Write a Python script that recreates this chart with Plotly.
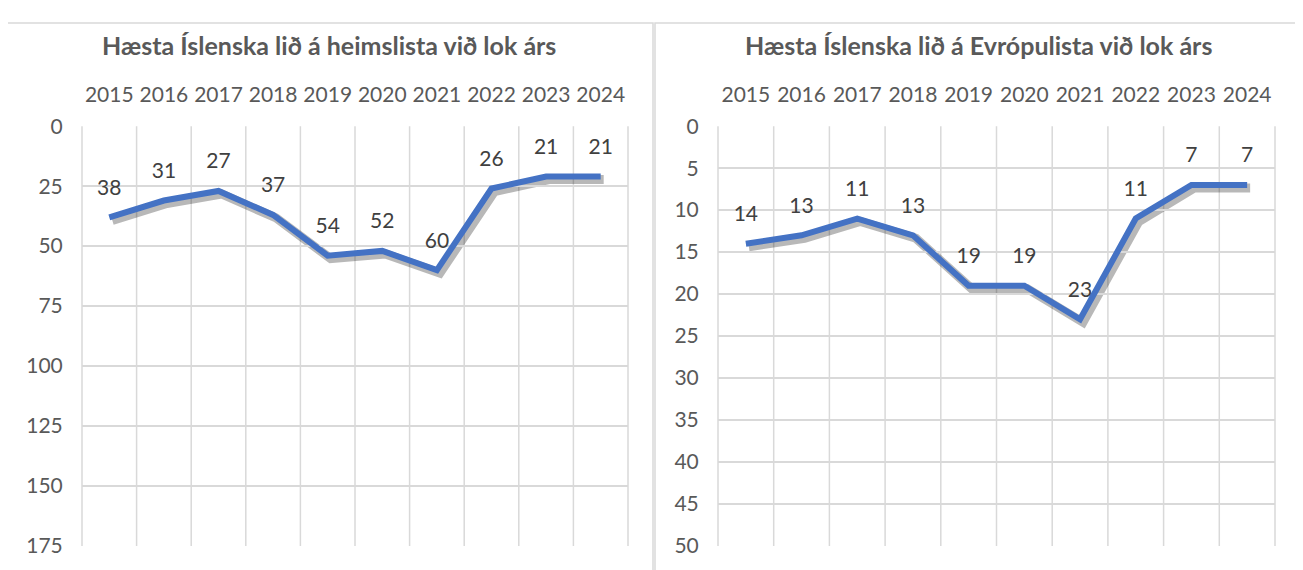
import plotly.graph_objects as go

W, H = 1287, 600
OX = 8             # horizontal offset of the figure inside the page
TOP_OFF = 22       # observed vertical offset of the figure inside the page
HR = H - 26        # observed rendered height of the figure

years = ["2015", "2016", "2017", "2018", "2019", "2020", "2021", "2022", "2023", "2024"]
world_rank = [38, 31, 27, 37, 54, 52, 60, 26, 21, 21]
europe_rank = [14, 13, 11, 13, 19, 19, 23, 11, 7, 7]
title_world = "Hæsta Íslenska lið á heimslista við lok árs"
title_europe = "Hæsta Íslenska lið á Evrópulista við lok árs"

FONT = "Lato"
TXT = "#595959"
LBL = "#404040"
GRID = "#d9d9d9"
BLUE = "#4472C4"

def px(x):
    return (x - OX) / W

def py(y):
    return 1 - (y - TOP_OFF) / HR

def aid(n):
    return "" if n == 1 else str(n)

fig = go.Figure()

panels = [
    dict(vals=world_rank, x0=82, x1=628, ymax=175, dtick=25, title=title_world, fx0=5, fx1=653),
    dict(vals=europe_rank, x0=718, x1=1275, ymax=50, dtick=5, title=title_europe, fx0=655, fx1=1302),
]
top, bottom = 126, 545
sh = 3  # shadow offset px

layout_axes = {}
for i, p in enumerate(panels):
    n = i * 2 + 1
    xs, ys = "x" + aid(n), "y" + aid(n)          # shadow subplot (drawn first)
    xa, ya = "x" + aid(n + 1), "y" + aid(n + 1)  # main subplot
    fig.add_trace(go.Scatter(x=years, y=p["vals"], mode="lines", xaxis=xs, yaxis=ys,
                             line=dict(color="rgba(0,0,0,0.28)", width=9), hoverinfo="skip",
                             showlegend=False))
    fig.add_trace(go.Scatter(x=years, y=p["vals"], mode="lines+markers+text", xaxis=xa, yaxis=ya,
                             line=dict(color=BLUE, width=6),
                             marker=dict(size=26, color="rgba(0,0,0,0)", line=dict(width=0)),
                             text=[str(v) for v in p["vals"]], textposition="top center",
                             textfont=dict(family=FONT, size=21, color=LBL),
                             cliponaxis=False, showlegend=False))
    common_x = dict(type="category", categoryorder="array", categoryarray=years,
                    range=[-0.5, 9.5])
    layout_axes["xaxis" + aid(n + 1)] = dict(**common_x, domain=[px(p["x0"]), px(p["x1"])], anchor=ya,
                                             side="top", showgrid=False,
                                             ticks="outside", ticklen=15, tickcolor="rgba(0,0,0,0)",
                                             showline=False, zeroline=False, tickangle=0,
                                             tickfont=dict(family=FONT, size=21, color=TXT))
    layout_axes["yaxis" + aid(n + 1)] = dict(range=[p["ymax"], 0], domain=[py(bottom), py(top)], anchor=xa,
                                             dtick=p["dtick"], showgrid=True, gridcolor=GRID, gridwidth=1.5,
                                             zeroline=False, ticks="outside", ticklen=14,
                                             tickcolor="rgba(0,0,0,0)", showline=False,
                                             tickfont=dict(family=FONT, size=21, color=TXT))
    layout_axes["xaxis" + aid(n)] = dict(**common_x, domain=[px(p["x0"] + sh), px(p["x1"] + sh)],
                                         anchor=ys, visible=False, showgrid=False)
    layout_axes["yaxis" + aid(n)] = dict(range=[p["ymax"], 0], domain=[py(bottom + sh), py(top + sh)],
                                         anchor=xs, visible=False, showgrid=False)
    for k in range(11):
        fig.add_shape(type="line", xref=f"{xa} domain", yref=f"{ya} domain",
                      x0=k / 10, x1=k / 10, y0=0, y1=1, line=dict(color=GRID, width=1.5), layer="below")
    fig.add_annotation(x=px((p["fx0"] + p["fx1"]) / 2), y=py(45), xref="paper", yref="paper",
                       text=f"<b>{p['title']}</b>", showarrow=False, xanchor="center", yanchor="middle",
                       font=dict(family=FONT, size=25, color=TXT))
    fig.add_shape(type="rect", xref="paper", yref="paper", x0=px(p["fx0"]), x1=px(p["fx1"]),
                  y0=py(650), y1=py(23), line=dict(color=GRID, width=1.5), fillcolor="rgba(0,0,0,0)",
                  layer="below")

fig.update_layout(width=W, height=H, margin=dict(l=0, r=0, t=0, b=0),
                  paper_bgcolor="white", plot_bgcolor="rgba(0,0,0,0)", showlegend=False,
                  **layout_axes)

fig.write_html("out.html")
